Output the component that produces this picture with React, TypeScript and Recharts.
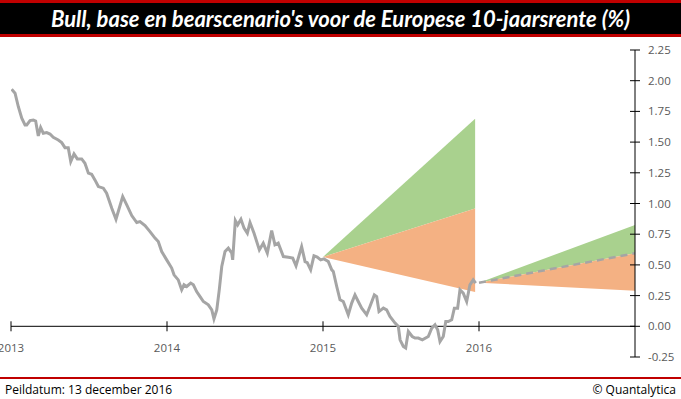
import { ComposedChart, Area, Line, XAxis, YAxis, ReferenceLine, ReferenceDot } from 'recharts';

// Historische 10-jaarsrente (decimale jaren)
const histDates = [
  2013.004, 2013.026, 2013.047, 2013.069, 2013.090, 2013.101, 2013.122, 2013.143, 2013.158, 2013.175,
  2013.190, 2013.207, 2013.229, 2013.250, 2013.271, 2013.303, 2013.325, 2013.346, 2013.367, 2013.383,
  2013.404, 2013.425, 2013.453, 2013.474, 2013.496, 2013.517, 2013.538, 2013.560, 2013.592, 2013.613,
  2013.646, 2013.673, 2013.716, 2013.742, 2013.774, 2013.806, 2013.827, 2013.859, 2013.891, 2013.923,
  2013.944, 2013.966, 2013.998, 2014.030, 2014.045, 2014.072, 2014.094, 2014.109, 2014.126, 2014.152,
  2014.169, 2014.190, 2014.212, 2014.233, 2014.265, 2014.287, 2014.301, 2014.319, 2014.335, 2014.351,
  2014.372, 2014.393, 2014.415, 2014.421, 2014.438, 2014.453, 2014.474, 2014.494, 2014.515, 2014.532,
  2014.558, 2014.592, 2014.617, 2014.643, 2014.671, 2014.692, 2014.713, 2014.746, 2014.778, 2014.806,
  2014.827, 2014.863, 2014.885, 2014.899, 2014.921, 2014.942, 2014.963, 2014.985, 2015.006, 2015.034,
  2015.056, 2015.066, 2015.088, 2015.109, 2015.130, 2015.162, 2015.184, 2015.205, 2015.226, 2015.248,
  2015.280, 2015.301, 2015.329, 2015.344, 2015.359, 2015.387, 2015.408, 2015.429, 2015.462, 2015.483,
  2015.494, 2015.515, 2015.530, 2015.547, 2015.572, 2015.590, 2015.611, 2015.637, 2015.675, 2015.697,
  2015.718, 2015.735, 2015.750, 2015.771, 2015.787, 2015.803, 2015.825, 2015.842, 2015.863, 2015.878,
  2015.899, 2015.921, 2015.942, 2015.963, 2015.979,
];
const histValues = [
  1.930, 1.898, 1.788, 1.694, 1.640, 1.640, 1.675, 1.680, 1.672, 1.550,
  1.618, 1.572, 1.577, 1.566, 1.539, 1.517, 1.496, 1.455, 1.455, 1.341,
  1.404, 1.363, 1.363, 1.328, 1.247, 1.238, 1.192, 1.138, 1.125, 1.084,
  0.962, 0.872, 1.056, 0.989, 0.902, 0.845, 0.853, 0.820, 0.771, 0.718,
  0.690, 0.609, 0.541, 0.474, 0.419, 0.378, 0.297, 0.338, 0.324, 0.352,
  0.338, 0.283, 0.242, 0.202, 0.175, 0.134, 0.061, 0.134, 0.297, 0.487,
  0.609, 0.636, 0.596, 0.541, 0.861, 0.826, 0.872, 0.799, 0.758, 0.845,
  0.758, 0.622, 0.677, 0.596, 0.779, 0.663, 0.677, 0.568, 0.563, 0.555,
  0.492, 0.649, 0.527, 0.519, 0.460, 0.574, 0.563, 0.541, 0.549, 0.527,
  0.460, 0.446, 0.324, 0.216, 0.202, 0.094, 0.189, 0.256, 0.202, 0.148,
  0.094, 0.161, 0.256, 0.242, 0.120, 0.148, 0.134, 0.080, 0.026, -0.002,
  -0.110, -0.164, -0.177, -0.042, -0.083, -0.096, -0.096, -0.110, -0.083, -0.015,
  0.012, -0.028, -0.124, -0.083, 0.039, 0.039, 0.053, 0.148, 0.148, 0.297,
  0.270, 0.202, 0.338, 0.378, 0.352,
];

// Scenario's vanaf begin 2015
const fan2015Dates = [2015.0, 2015.975];
const fan2015Bull = [0.565, 1.69];
const fan2015Base = [0.565, 0.96];
const fan2015Bear = [0.565, 0.28];

// Scenario's vanaf begin 2016
const fan2016Dates = [2016.0, 2017.0];
const fan2016Bull = [0.355, 0.825];
const fan2016Base = [0.355, 0.595];
const fan2016Bear = [0.355, 0.29];

const yTicks = [-0.25, 0, 0.25, 0.5, 0.75, 1.0, 1.25, 1.5, 1.75, 2.0, 2.25];
const yearTicks = [2013, 2014, 2015, 2016];

const histData = histDates.map((t, i) => ({ t, rente: histValues[i] }));

function buildFan(dates: number[], bull: number[], base: number[], bear: number[]) {
  return dates.map((t, i) => ({
    t,
    up: [base[i], bull[i]],
    down: [bear[i], base[i]],
    base: base[i],
  }));
}

const fan2015 = buildFan(fan2015Dates, fan2015Bull, fan2015Base, fan2015Bear);
const fan2016 = buildFan(fan2016Dates, fan2016Bull, fan2016Base, fan2016Bear);

const FONT = '"Open Sans", "Segoe UI", sans-serif';
const RED = '#C00000';
const GREEN = '#A9D18E';
const ORANGE = '#F4B183';
const GREY = '#A5A5A5';

function YTick(props: any) {
  const { x, y, payload } = props;
  return (
    <g>
      <line x1={x - 5} x2={x + 5} y1={y} y2={y} stroke="#000" strokeWidth={1} />
      <text x={x + 13} y={y} dy={4} fontSize={11.5} fill="#595959" fontFamily={FONT}>
        {Number(payload.value).toFixed(2)}
      </text>
    </g>
  );
}

function YearTick(props: any) {
  const { cx, cy, year } = props;
  return (
    <g>
      <line x1={cx} x2={cx} y1={cy - 5} y2={cy + 5} stroke="#000" strokeWidth={1} />
      <text x={cx} y={cy + 26} textAnchor="middle" fontSize={11.5} fill="#595959" fontFamily={FONT}>
        {year}
      </text>
    </g>
  );
}

export default function App() {
  return (
    <div style={{ position: 'absolute', left: 0, top: 0, width: 681, height: 399, background: '#fff', overflow: 'hidden' }}>
      <ComposedChart width={681} height={399} margin={{ top: 50, right: 0, left: 11, bottom: 42 }}>
        <XAxis type="number" dataKey="t" domain={[2013, 2017]} allowDataOverflow hide />
        <YAxis
          orientation="right"
          domain={[-0.25, 2.25]}
          ticks={yTicks}
          interval={0}
          width={46}
          tickSize={0}
          tickMargin={0}
          tickLine={false}
          axisLine={{ stroke: '#000' }}
          tick={<YTick />}
        />
        <Area data={fan2015} dataKey="up" type="linear" stroke="none" fill={GREEN} fillOpacity={1} isAnimationActive={false} />
        <Area data={fan2015} dataKey="down" type="linear" stroke="none" fill={ORANGE} fillOpacity={1} isAnimationActive={false} />
        <Area data={fan2016} dataKey="up" type="linear" stroke="none" fill={GREEN} fillOpacity={1} isAnimationActive={false} />
        <Area data={fan2016} dataKey="down" type="linear" stroke="none" fill={ORANGE} fillOpacity={1} isAnimationActive={false} />
        <ReferenceLine y={0} stroke="#000" strokeWidth={1} />
        {yearTicks.map((yr) => (
          <ReferenceDot key={yr} x={yr} y={0} ifOverflow="visible" shape={(p: any) => <YearTick {...p} year={yr} />} />
        ))}
        <Line data={fan2016} dataKey="base" type="linear" stroke={GREY} strokeWidth={2.5} strokeDasharray="7 5" dot={false} isAnimationActive={false} />
        <Line data={histData} dataKey="rente" type="linear" stroke={GREY} strokeWidth={3} dot={false} isAnimationActive={false} />
      </ComposedChart>

      <div
        style={{
          position: 'absolute', left: 0, top: 0, width: 681, height: 31,
          borderTop: `3px solid ${RED}`, borderBottom: `3px solid ${RED}`, background: '#000',
          color: '#fff', fontFamily: 'Lato, sans-serif', fontWeight: 700, fontStyle: 'italic',
          fontSize: 22, lineHeight: '31px', textAlign: 'center', whiteSpace: 'nowrap',
        }}
      >
        Bull, base en bearscenario's voor de Europese 10-jaarsrente (%)
      </div>

      <div style={{ position: 'absolute', left: 0, top: 377, width: 681, height: 2, background: RED }} />
      <div style={{ position: 'absolute', left: 5, top: 381, fontFamily: FONT, fontSize: 12, color: '#000' }}>
        Peildatum: 13 december 2016
      </div>
      <div style={{ position: 'absolute', right: 5, top: 381, fontFamily: FONT, fontSize: 12, color: '#000' }}>
        © Quantalytica
      </div>
    </div>
  );
}
